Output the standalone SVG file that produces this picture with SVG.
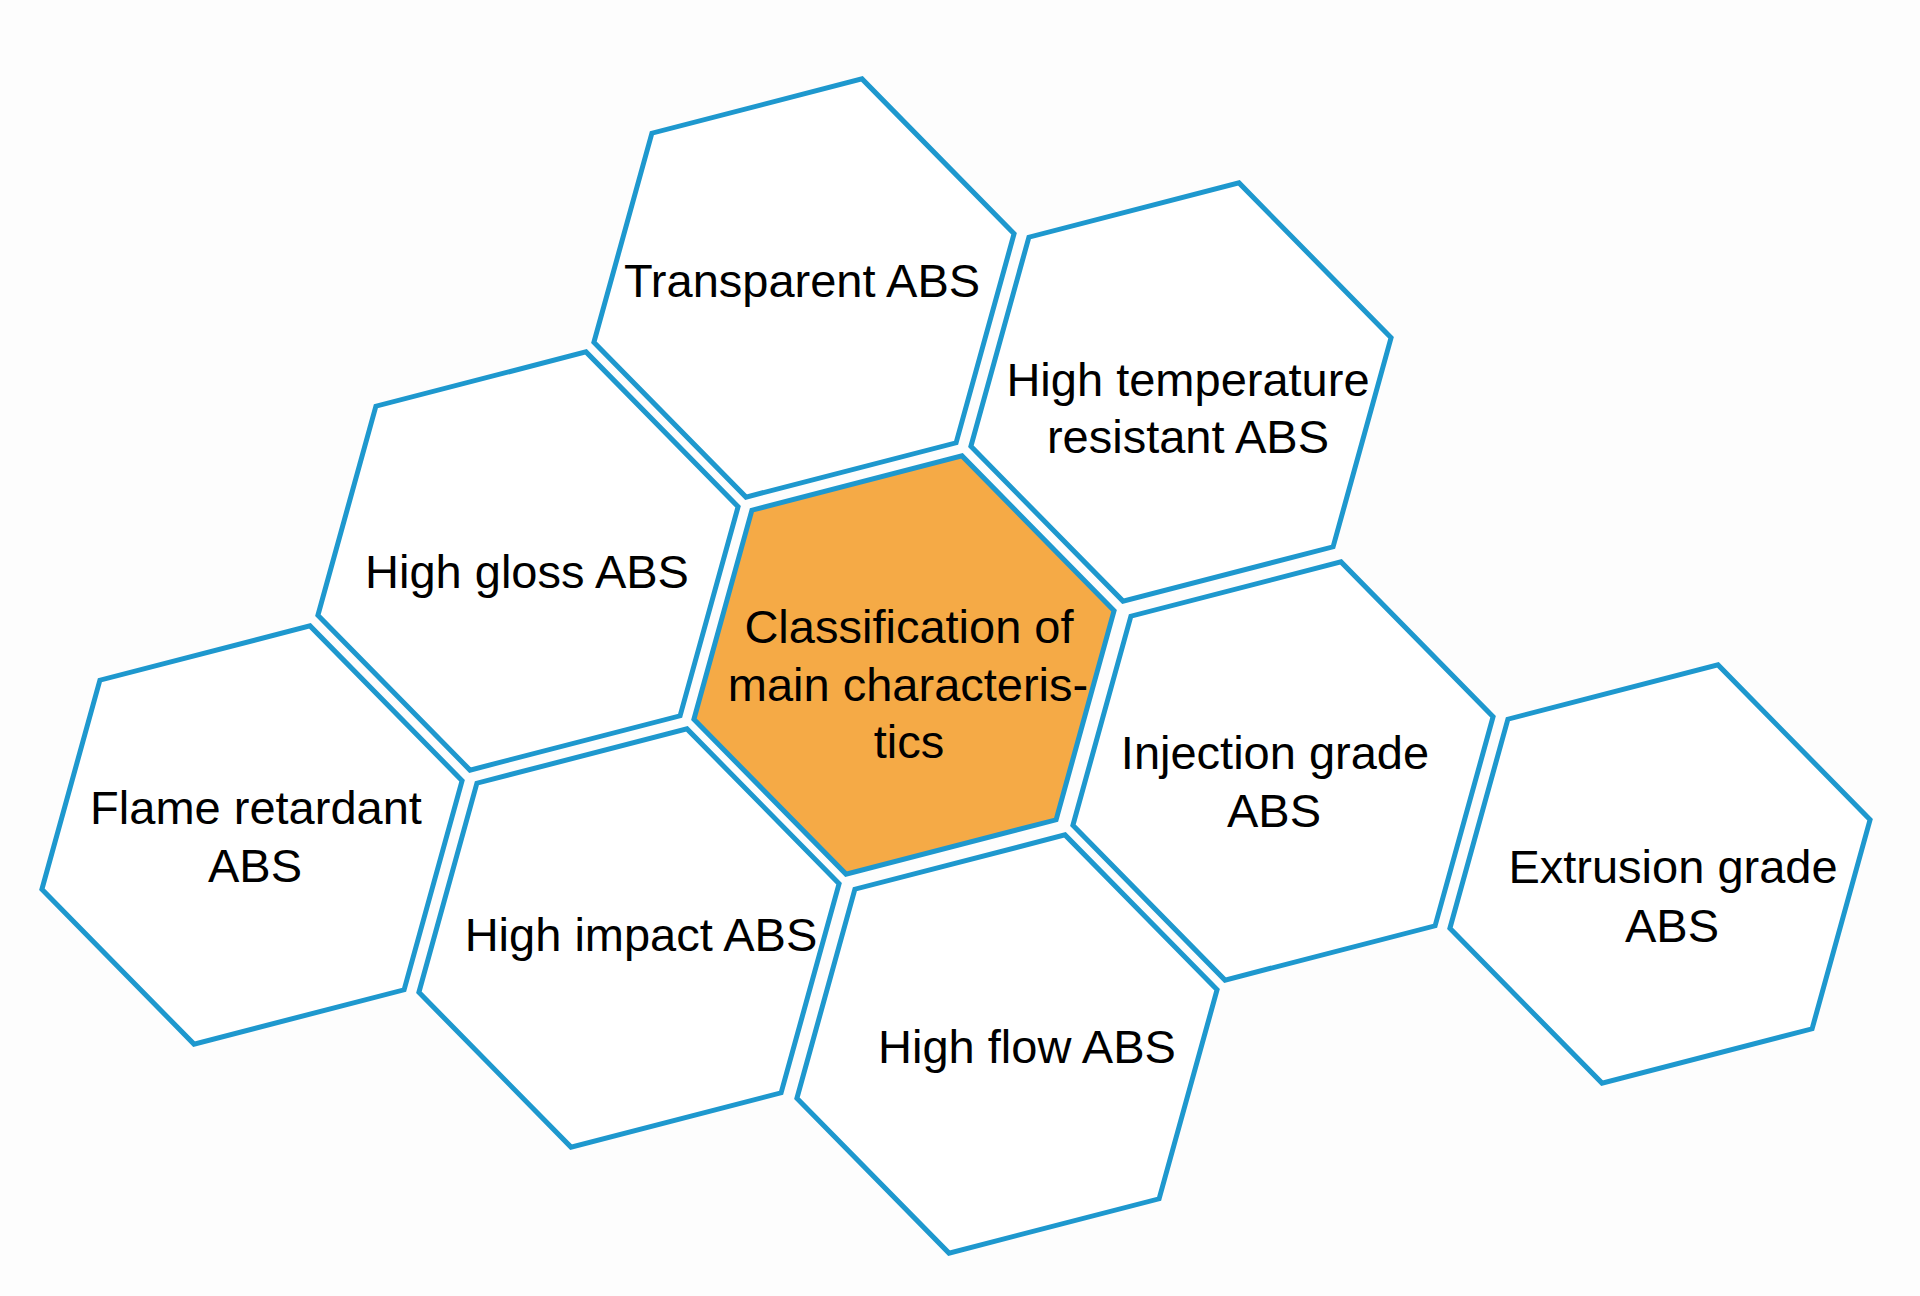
<svg xmlns="http://www.w3.org/2000/svg" xmlns:xlink="http://www.w3.org/1999/xlink" width="1920" height="1296" viewBox="0 0 1920 1296">
<style>
.hex{fill:#ffffff;stroke:#1e98ce;stroke-width:5;stroke-linejoin:miter}
.hex.core{fill:#f5aa46}
.lbl{font-family:"Liberation Sans",Arial,sans-serif;font-size:47px;fill:#000;text-anchor:middle}
</style>
<defs>
<polygon id="hexshape" points="210.1,-54.3 152.1,154.8 -58,209.1 -210.1,54.3 -152.1,-154.8 58,-209.1"/>
</defs>
<rect width="1920" height="1296" fill="#fdfdfd"/>
<g id="connectors"></g>
<g id="node-transparent">
<use xlink:href="#hexshape" class="hex" transform="translate(804,288)"/>
<text class="lbl" x="802" y="297">Transparent ABS</text>
</g>
<g id="node-high-temperature">
<use xlink:href="#hexshape" class="hex" transform="translate(1181,392)"/>
<text class="lbl" x="1188" y="396">High temperature</text>
<text class="lbl" x="1188" y="453">resistant ABS</text>
</g>
<g id="node-high-gloss">
<use xlink:href="#hexshape" class="hex" transform="translate(528,561)"/>
<text class="lbl" x="527" y="588">High gloss ABS</text>
</g>
<g id="node-center">
<use xlink:href="#hexshape" class="hex core" transform="translate(904,665)"/>
<text class="lbl" x="909" y="643">Classification of</text>
<text class="lbl" x="908" y="701">main characteris-</text>
<text class="lbl" x="909" y="758">tics</text>
</g>
<g id="node-flame-retardant">
<use xlink:href="#hexshape" class="hex" transform="translate(252,835)"/>
<text class="lbl" x="256" y="824">Flame retardant</text>
<text class="lbl" x="255" y="882">ABS</text>
</g>
<g id="node-high-impact">
<use xlink:href="#hexshape" class="hex" transform="translate(629,938)"/>
<text class="lbl" x="641" y="951">High impact ABS</text>
</g>
<g id="node-high-flow">
<use xlink:href="#hexshape" class="hex" transform="translate(1007,1044)"/>
<text class="lbl" x="1027" y="1063">High flow ABS</text>
</g>
<g id="node-injection">
<use xlink:href="#hexshape" class="hex" transform="translate(1283,771)"/>
<text class="lbl" x="1275" y="769">Injection grade</text>
<text class="lbl" x="1274" y="827">ABS</text>
</g>
<g id="node-extrusion">
<use xlink:href="#hexshape" class="hex" transform="translate(1660,874)"/>
<text class="lbl" x="1673" y="883">Extrusion grade</text>
<text class="lbl" x="1672" y="942">ABS</text>
</g>
</svg>
